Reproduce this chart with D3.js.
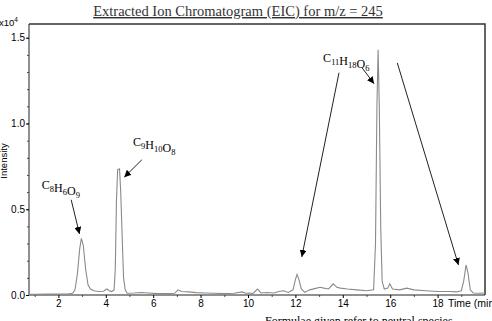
<!DOCTYPE html>
<html>
<head>
<meta charset="utf-8">
<script src="https://cdn.jsdelivr.net/npm/d3@7"></script>
<style>
  body { margin: 0; background: #fff; }
  .tick text { font-family: "Liberation Sans", Arial, sans-serif; font-size: 10px; fill: #000; }
  .formula { font-family: "Liberation Serif", "Times New Roman", serif; font-size: 12px; fill: #000; }
</style>
</head>
<body>
<svg id="chart" width="492" height="321"></svg>
<script>
// retention time (min) and intensity (x10^4)
const times = [0.76, 1.0, 1.5, 2.0, 2.4, 2.6, 2.7, 2.8, 2.9, 2.97, 3.05, 3.15, 3.25, 3.35, 3.5, 3.7, 3.9, 4.05, 4.15, 4.25, 4.35,
  4.4, 4.45, 4.5, 4.58, 4.63, 4.7, 4.75, 4.82, 4.9, 5.2, 5.5, 5.8, 6.2, 6.6, 6.9, 7.05, 7.2, 7.5, 7.8, 8.2, 8.6, 9.0, 9.4,
  9.75, 9.9, 10.05, 10.2, 10.4, 10.55, 10.8, 11.1, 11.3, 11.5, 11.7, 11.9, 12.0, 12.07, 12.15, 12.25, 12.4, 12.6, 12.9,
  13.05, 13.2, 13.4, 13.6, 13.75, 13.9, 14.2, 14.6, 15.0, 15.3, 15.38, 15.44, 15.49, 15.54, 15.6, 15.66, 15.75, 15.9,
  15.98, 16.1, 16.4, 16.7, 17.0, 17.5, 18.0, 18.5, 18.8, 19.0, 19.1, 19.2, 19.28, 19.38, 19.5, 19.8, 20.0];
const intensity = [0.004, 0.004, 0.005, 0.005, 0.006, 0.010, 0.030, 0.12, 0.27, 0.33, 0.29, 0.15, 0.06, 0.035, 0.025, 0.02,
  0.022, 0.035, 0.025, 0.02, 0.03, 0.15, 0.55, 0.73, 0.735, 0.6, 0.3, 0.1, 0.03, 0.01, 0.012, 0.015, 0.012, 0.008, 0.008,
  0.01, 0.03, 0.02, 0.018, 0.014, 0.012, 0.01, 0.008, 0.01, 0.018, 0.01, 0.012, 0.008, 0.035, 0.012, 0.015, 0.012, 0.02,
  0.025, 0.015, 0.03, 0.09, 0.12, 0.09, 0.035, 0.015, 0.03, 0.04, 0.045, 0.04, 0.035, 0.065, 0.045, 0.04, 0.035, 0.03,
  0.025, 0.03, 0.3, 1.1, 1.43, 1.1, 0.4, 0.08, 0.035, 0.04, 0.065, 0.035, 0.03, 0.04, 0.03, 0.025, 0.02, 0.02, 0.018,
  0.025, 0.08, 0.175, 0.13, 0.03, 0.012, 0.01, 0.012];

const xTicks = [2, 4, 6, 8, 10, 12, 14, 16, 18];
const yTicks = [0, 0.5, 1.0, 1.5];

// formula labels: [element, count] pairs, anchored at [time, intensity]
const labels = [
  { parts: [["C", "8"], ["H", "6"], ["O", "9"]], at: [1.30, 0.62] },
  { parts: [["C", "9"], ["H", "10"], ["O", "8"]], at: [5.15, 0.87] },
  { parts: [["C", "11"], ["H", "18"], ["O", "6"]], at: [13.17, 1.36] }
];
// arrows from label to peak, [t0, y0, t1, y1]
const arrows = [
  [2.54, 0.555, 2.89, 0.356],
  [5.52, 0.788, 4.78, 0.687],
  [14.8, 1.327, 15.32, 1.232],
  [13.84, 1.296, 12.27, 0.222],
  [16.3, 1.353, 18.88, 0.175]
];

const svg = d3.select("#chart");
const mLeft = 29, mRight = 485, mTop = 24, mBottom = 295;

const x = d3.scaleLinear().domain([0.76, 20.0]).range([mLeft, mRight]);
const y = d3.scaleLinear().domain([0, 1.58]).range([mBottom, mTop]);

svg.append("defs").append("marker")
  .attr("id", "head").attr("viewBox", "0 0 10 10")
  .attr("refX", 10).attr("refY", 5)
  .attr("markerWidth", 7).attr("markerHeight", 7)
  .attr("markerUnits", "userSpaceOnUse")
  .attr("orient", "auto")
  .append("path").attr("d", "M0,0 L10,5 L0,10 Z").attr("fill", "#000");

// title
svg.append("text").attr("x", 238).attr("y", 16).attr("text-anchor", "middle")
  .attr("font-family", "Liberation Serif, Times New Roman, serif").attr("font-size", "14.5px")
  .attr("fill", "#333").style("text-decoration", "underline")
  .text("Extracted Ion Chromatogram (EIC) for m/z = 245");

// frame: top and right edges
svg.append("path").attr("d", `M${mLeft},${mTop}H${mRight}V${mBottom}`)
  .attr("fill", "none").attr("stroke", "#333").attr("stroke-width", 1.5);

// minor ticks
svg.append("g").attr("transform", `translate(${mLeft},0)`)
  .call(d3.axisLeft(y).tickValues(d3.range(0.1, 1.58, 0.1)).tickSize(2).tickFormat(""))
  .call(g => g.select(".domain").remove())
  .selectAll("line").attr("stroke", "#555");
svg.append("g").attr("transform", `translate(0,${mBottom})`)
  .call(d3.axisBottom(x).tickValues(d3.range(1, 20, 2)).tickSize(2).tickFormat(""))
  .call(g => g.select(".domain").remove())
  .selectAll("line").attr("stroke", "#555");

const yAxis = svg.append("g").attr("transform", `translate(${mLeft},0)`)
  .call(d3.axisLeft(y).tickValues(yTicks).tickSize(3).tickPadding(1).tickFormat(d3.format(".1f")));
yAxis.select(".domain").attr("stroke", "#222").attr("d", `M0,${mTop}V${mBottom}`);

const xAxis = svg.append("g").attr("transform", `translate(0,${mBottom})`)
  .call(d3.axisBottom(x).tickValues(xTicks).tickSize(3).tickPadding(2).tickFormat(d3.format("d")));
xAxis.select(".domain").attr("stroke", "#222").attr("d", `M${mLeft},0H${mRight}`);

svg.append("text").attr("x", 448).attr("y", 307)
  .attr("font-family", "Liberation Sans, Arial, sans-serif").attr("font-size", "10.5px")
  .text("Time (min)");

const exp = svg.append("text").attr("x", -1).attr("y", 26)
  .attr("font-family", "Liberation Sans, Arial, sans-serif").attr("font-size", "9.5px");
exp.append("tspan").text("x10");
exp.append("tspan").attr("dy", -4).attr("font-size", "6.5px").text("4");

svg.append("text").attr("transform", "translate(7,161) rotate(-90)").attr("text-anchor", "middle")
  .attr("font-family", "Liberation Sans, Arial, sans-serif").attr("font-size", "9.5px")
  .text("Intensity");

// trace
const line = d3.line().x((d, i) => x(times[i])).y(d => y(d));
svg.append("path").attr("d", line(intensity))
  .attr("fill", "none").attr("stroke", "#8a8a8a").attr("stroke-width", 1.1);

// formula labels
labels.forEach(l => {
  const t = svg.append("text").attr("class", "formula").attr("x", x(l.at[0])).attr("y", y(l.at[1]));
  l.parts.forEach(p => {
    t.append("tspan").text(p[0]);
    t.append("tspan").attr("dy", 3).attr("font-size", "8.5px").text(p[1]);
    t.append("tspan").attr("dy", -3).text("");
  });
});

svg.selectAll(".arrow").data(arrows).join("line").attr("class", "arrow")
  .attr("x1", d => x(d[0])).attr("y1", d => y(d[1]))
  .attr("x2", d => x(d[2])).attr("y2", d => y(d[3]))
  .attr("stroke", "#222").attr("stroke-width", 1).attr("marker-end", "url(#head)");

svg.append("text").attr("x", 265).attr("y", 325)
  .attr("font-family", "Liberation Serif, Times New Roman, serif").attr("font-size", "12px")
  .text("Formulae given refer to neutral species");
</script>
</body>
</html>
